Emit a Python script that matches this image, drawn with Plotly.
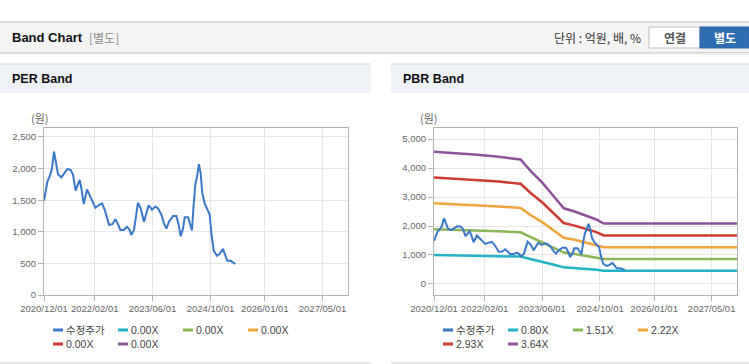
import plotly.graph_objects as go

W, H = 749, 364

# ---------------- data ----------------
price_dates = [
    "2020-12-01", "2020-12-12", "2020-12-29", "2021-01-18", "2021-02-06", "2021-02-23",
    "2021-03-09", "2021-03-29", "2021-04-26", "2021-05-24", "2021-06-15", "2021-07-13",
    "2021-08-02", "2021-08-24", "2021-09-13", "2021-09-27", "2021-10-11", "2021-10-31",
    "2021-11-28", "2021-12-20", "2022-01-09", "2022-02-06", "2022-03-06", "2022-04-03",
    "2022-04-25", "2022-05-15", "2022-06-01", "2022-06-29", "2022-07-24", "2022-08-15",
    "2022-09-04", "2022-10-02", "2022-10-30", "2022-11-21", "2022-12-05", "2022-12-28",
    "2023-01-11", "2023-01-30", "2023-02-22", "2023-03-22", "2023-04-10", "2023-04-30",
    "2023-05-28", "2023-06-25", "2023-07-18", "2023-08-15", "2023-09-06", "2023-09-26",
    "2023-10-18", "2023-11-21", "2023-12-19", "2024-01-07", "2024-01-24", "2024-02-13",
    "2024-02-27", "2024-03-26", "2024-04-14", "2024-04-28", "2024-05-12", "2024-05-26",
    "2024-06-12", "2024-06-26", "2024-07-10", "2024-07-24", "2024-08-13", "2024-09-02",
    "2024-09-24", "2024-10-08", "2024-10-28", "2024-11-25", "2024-12-17", "2025-01-14",
    "2025-02-03", "2025-02-19", "2025-03-19", "2025-04-08", "2025-04-28",
]
price_values = [
    1490, 1630, 1790, 1880, 2000, 2270, 2140, 1910, 1860, 1930, 1990, 1980,
    1900, 1650, 1740, 1820, 1690, 1440, 1670, 1580, 1480, 1380, 1420, 1450,
    1350, 1210, 1110, 1120, 1200, 1120, 1030, 1030, 1080, 1030, 950, 1030,
    1190, 1460, 1370, 1160, 1290, 1420, 1350, 1400, 1370, 1270, 1130, 1050,
    1160, 1250, 1250, 1110, 930, 1050, 1230, 1230, 1110, 1020, 1420, 1740,
    1900, 2070, 1930, 1610, 1450, 1370, 1270, 980, 700, 620, 650, 730,
    630, 540, 540, 510, 490,
]

# book value per share used for PBR bands
bps_dates = ["2020-12-01", "2021-06-01", "2021-12-01", "2022-06-01", "2022-12-01",
             "2023-03-01", "2023-06-01", "2023-09-01", "2023-12-01", "2024-03-01",
             "2024-06-01", "2024-09-01", "2024-11-01", "2027-12-01"]
bps_values = [1253, 1240, 1225, 1205, 1180, 1065, 962, 838, 717, 687, 646, 611, 572, 572]

pbr_multiples = [0.80, 1.51, 2.22, 2.93, 3.64]
per_multiples = [0.00, 0.00, 0.00, 0.00, 0.00]

x_ticks = ["2020-12-01", "2022-02-01", "2023-06-01", "2024-10-01", "2026-01-01", "2027-05-01"]
x_range = ["2020-12-01", "2027-12-01"]
per_y_ticks = [0, 500, 1000, 1500, 2000, 2500]
pbr_y_ticks = [0, 1000, 2000, 3000, 4000, 5000]

price_name = "수정주가"
price_color = "#3a78c9"
band_colors = ["#22b3c6", "#8cb655", "#f0a53c", "#cf3a30", "#8e529b"]

FONT = "Liberation Sans, Noto Sans CJK KR, sans-serif"
KFONT = "Noto Sans CJK KR, Liberation Sans, sans-serif"


def px(x):
    return x / W


def py(y):
    return 1 - y / H


fig = go.Figure()

# PER chart: price
fig.add_trace(go.Scatter(x=price_dates, y=price_values, mode="lines", name=price_name,
                         line=dict(color=price_color, width=2), xaxis="x", yaxis="y",
                         showlegend=False))

# PBR chart: bands then price
for m, c in zip(pbr_multiples, band_colors):
    fig.add_trace(go.Scatter(x=bps_dates, y=[m * b for b in bps_values], mode="lines",
                             name=f"{m:.2f}X", line=dict(color=c, width=2.5),
                             xaxis="x2", yaxis="y2", showlegend=False))
fig.add_trace(go.Scatter(x=price_dates, y=price_values, mode="lines", name=price_name,
                         line=dict(color=price_color, width=2), xaxis="x2", yaxis="y2",
                         showlegend=False))

axis_common = dict(showline=True, mirror=True, linecolor="#b4b4b4", linewidth=1,
                   showgrid=True, gridcolor="#e6e6e6", gridwidth=1, zeroline=False,
                   ticks="outside", ticklen=5, tickcolor="#b4b4b4", automargin=False,
                   tickfont=dict(family=FONT, size=9.5, color="#666666"))

fig.update_layout(
    width=W, height=H, margin=dict(l=0, r=0, t=0, b=0, pad=0, autoexpand=False),
    paper_bgcolor="white", plot_bgcolor="white", showlegend=False,
    xaxis=dict(domain=[px(44), px(348)], type="date", range=x_range, tickvals=x_ticks,
               tickformat="%Y/%m/%d", tickangle=0, anchor="y", **axis_common),
    yaxis=dict(domain=[py(295), py(128)], range=[0, 2642], tickvals=per_y_ticks,
               tickformat=",d", anchor="x", **axis_common),
    xaxis2=dict(domain=[px(434), px(737)], type="date", range=x_range, tickvals=x_ticks,
                tickformat="%Y/%m/%d", tickangle=0, anchor="y2", **axis_common),
    yaxis2=dict(domain=[py(295), py(128)], range=[-380, 5380], tickvals=pbr_y_ticks,
                tickformat=",d", anchor="x2", **axis_common),
)

shapes = []
ann = []


def rect(x0, y0, x1, y1, fill, line=None, lw=0):
    shapes.append(dict(type="rect", xref="paper", yref="paper", x0=px(x0), x1=px(x1),
                       y0=py(y1), y1=py(y0), fillcolor=fill,
                       line=dict(color=line or fill, width=lw), layer="below"))


def hline(x0, x1, y, color, width=1):
    shapes.append(dict(type="line", xref="paper", yref="paper", x0=px(x0), x1=px(x1),
                       y0=py(y), y1=py(y), line=dict(color=color, width=width)))


def text(x, y, s, size=12, color="#222", bold=False, anchor="left", family=FONT):
    if bold:
        s = f"<b>{s}</b>"
    ann.append(dict(xref="paper", yref="paper", x=px(x), y=py(y), text=s, showarrow=False,
                    xanchor=anchor, yanchor="middle", borderpad=0,
                    font=dict(family=family, size=size, color=color)))


# top header bar
rect(0, 22, 749, 52, "#f4f4f4")
hline(0, 749, 22, "#b8b8b8")
hline(0, 749, 52.5, "#d2d2d2")
hline(0, 749, 53.5, "#e6e6e6")
hline(0, 749, 54.5, "#f2f2f2")
text(11, 37.5, "Band Chart", size=13, color="#111", bold=True)
text(88, 38, "[별도]", size=12, color="#8a8a8a", family=KFONT)
text(642, 37.5, "단위 : 억원, 배, %", size=12, color="#333", anchor="right", family=KFONT)
rect(649, 27, 700, 48, "white", line="#bdbdbd", lw=1)
rect(700, 27, 749, 48, "#2f6db3", line="#2a64a6", lw=1)
text(674.5, 37.5, "연결", size=12, color="#555", bold=True, anchor="center", family=KFONT)
text(724.5, 37.5, "별도", size=12, color="white", bold=True, anchor="center", family=KFONT)

# panel headers
for x0, x1, title in [(0, 371, "PER Band"), (391, 749, "PBR Band")]:
    rect(x0, 64, x1, 93, "#eef2f7")
    hline(x0, x1, 64, "#d4d4d4")
    hline(x0, x1, 363, "#cccccc")
    text(x0 + 11, 79, title, size=12.5, color="#111", bold=True)

# unit labels
text(40, 118, "(원)", size=11, color="#666", anchor="center", family=KFONT)
text(429, 118, "(원)", size=11, color="#666", anchor="center", family=KFONT)


# legends
def legend(x_starts, entries):
    for i, (label, color) in enumerate(entries):
        row, col = divmod(i, 4)
        x0 = x_starts[col]
        y = 330 + row * 14
        shapes.append(dict(type="line", xref="paper", yref="paper", x0=px(x0), x1=px(x0 + 10),
                           y0=py(y), y1=py(y), line=dict(color=color, width=3)))
        text(x0 + 12, y, label, size=10.5, color="#444", family=FONT)


legend([53, 118, 183, 248],
       [(price_name, price_color)] + [(f"{m:.2f}X", c) for m, c in zip(per_multiples, band_colors)])
legend([443, 508, 573, 638],
       [(price_name, price_color)] + [(f"{m:.2f}X", c) for m, c in zip(pbr_multiples, band_colors)])

fig.update_layout(shapes=shapes, annotations=ann)
fig.write_html("out.html", config={"displayModeBar": False},
               post_script="document.body.style.margin='0';document.body.style.padding='0';")
